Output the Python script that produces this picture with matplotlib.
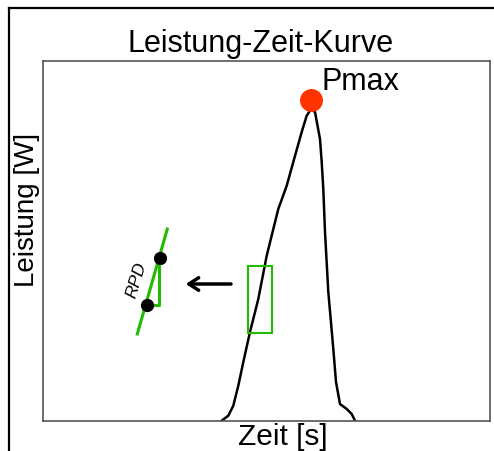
import matplotlib.pyplot as plt
from matplotlib.patches import Rectangle
from matplotlib.lines import Line2D

plt.rcParams['font.family'] = ['Liberation Sans', 'DejaVu Sans']

# Leistung-Zeit-Kurve (arbitrary units)
zeit = [178.7, 185.3, 190.3, 195.3, 200.3, 207, 215.3, 223.7, 235.3, 243.7, 250.3,
        258.7, 263.7, 267, 270, 272, 277, 278.7, 280.3, 282, 285.3, 287.7, 290.3,
        293, 297, 303.7, 308.7, 312]
leistung = [0.3, 5.3, 15.3, 35.3, 59, 89, 122, 165.3, 212, 235.3, 259, 289, 305.3,
            310.3, 310.3, 309, 282, 259, 232, 189, 129, 102, 72, 39, 17, 12, 7, 0.3]
pmax = (267.7, 321)
zoom_box = (205.3, 88, 24, 67.3)   # x, y, w, h
rpd_line_x = [94.3, 124.3]
rpd_line_y = [87, 192]
rpd_pts_x = [117, 103.7]
rpd_pts_y = [162.7, 116.3]

green = '#22bb00'

fig = plt.figure(figsize=(4.94, 4.52), dpi=100)
ax = fig.add_axes([43/494, 1-422/452, 447/494, 360/452])
ax.set_xlim(0, 447)
ax.set_ylim(0, 360)
ax.set_xticks([])
ax.set_yticks([])
for s in ax.spines.values():
    s.set_color('#555555')
    s.set_linewidth(1.2)

ax.plot(zeit, leistung, color='black', lw=1.8, solid_joinstyle='round', zorder=2)
ax.plot(*pmax, 'o', color='#ff3300', ms=15.5, zorder=3)
ax.text(pmax[0] + 11, pmax[1] + 11, 'Pmax', fontsize=22, ha='left', va='baseline')

ax.add_patch(Rectangle(zoom_box[:2], zoom_box[2], zoom_box[3], fill=False,
                       edgecolor=green, lw=1.5, zorder=3))
ax.annotate('', xy=(142.7, 137), xytext=(188, 137),
            arrowprops=dict(arrowstyle='->,head_length=0.7,head_width=0.45',
                            color='black', lw=2.5, shrinkA=0, shrinkB=0))

ax.plot(rpd_line_x, rpd_line_y, color=green, lw=2.2, zorder=2)
ax.plot([rpd_pts_x[1], rpd_pts_x[0] - 0.7, rpd_pts_x[0] - 0.7],
        [rpd_pts_y[1] - 0.3, rpd_pts_y[1] - 0.3, rpd_pts_y[0]], color=green, lw=2.2, zorder=2)
ax.plot(rpd_pts_x, rpd_pts_y, 'o', color='black', ms=8.5, zorder=4)
ax.text(93.7, 142, 'RPD', fontsize=12.5, style='italic', rotation=73,
        ha='center', va='center')

fig.text(261/494, 1-52/452, 'Leistung-Zeit-Kurve', fontsize=22, ha='center', va='baseline')
fig.text(283/494, 1-445/452, 'Zeit [s]', fontsize=21.5, ha='center', va='baseline')
fig.text(27/494, 1-210/452, 'Leistung [W]', fontsize=20, rotation=90, ha='center', va='center')

# outer frame
fig.add_artist(Line2D([9/494, 9/494], [1-9/452, -0.1], transform=fig.transFigure,
                      color='black', lw=1.6))
fig.add_artist(Line2D([9/494, 1.1], [1-9/452, 1-9/452], transform=fig.transFigure,
                      color='black', lw=1.6))

fig.savefig('out.png', dpi=100)
